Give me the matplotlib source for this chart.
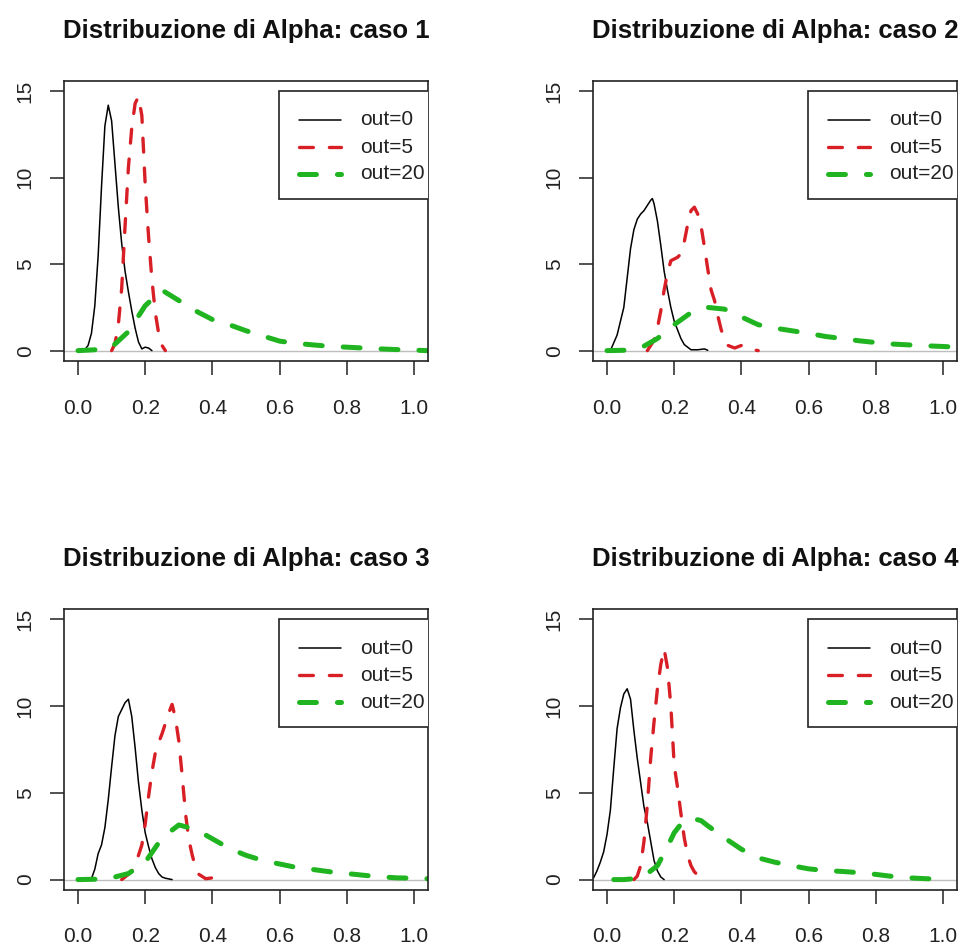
import matplotlib
matplotlib.use("Agg")
import matplotlib.pyplot as plt
from matplotlib.patches import Rectangle

plt.rcParams['font.family'] = ['Liberation Sans', 'DejaVu Sans']
plt.rcParams['lines.scale_dashes'] = False

# ---- data: density of Alpha for each case and number of outliers ----
titles = ["Distribuzione di Alpha: caso 1", "Distribuzione di Alpha: caso 2",
          "Distribuzione di Alpha: caso 3", "Distribuzione di Alpha: caso 4"]
series_labels = ["out=0", "out=5", "out=20"]

# caso 1
c1_out0_x = [0.01, 0.02, 0.03, 0.04, 0.05, 0.06, 0.07, 0.08, 0.09, 0.10, 0.11, 0.12, 0.13, 0.14,
             0.15, 0.16, 0.17, 0.18, 0.19, 0.20, 0.21, 0.22]
c1_out0_y = [0.0, 0.05, 0.3, 1.0, 2.6, 5.5, 9.5, 13.0, 14.2, 13.3, 10.8, 8.3, 6.2, 4.6,
             3.4, 2.3, 1.3, 0.5, 0.1, 0.2, 0.15, 0.0]
c1_out5_x = [0.10, 0.11, 0.12, 0.13, 0.14, 0.15, 0.16, 0.17, 0.18, 0.19, 0.20, 0.21, 0.22, 0.23,
             0.24, 0.25, 0.26]
c1_out5_y = [0.0, 0.4, 1.5, 3.6, 7.2, 10.6, 12.9, 14.3, 14.7, 13.6, 9.6, 6.6, 4.1, 2.2,
             1.0, 0.3, 0.0]
c1_out20_x = [0.0, 0.05, 0.10, 0.15, 0.20, 0.25, 0.30, 0.35, 0.40, 0.45, 0.50, 0.55, 0.60, 0.65,
              0.70, 0.75, 0.80, 0.85, 0.90, 0.95, 1.00, 1.04]
c1_out20_y = [0.0, 0.05, 0.2, 1.1, 2.6, 3.5, 2.9, 2.3, 1.8, 1.5, 1.15, 0.85, 0.55, 0.42,
              0.33, 0.25, 0.2, 0.15, 0.1, 0.06, 0.03, 0.0]

# caso 2
c2_out0_x = [0.0, 0.01, 0.03, 0.05, 0.06, 0.07, 0.08, 0.09, 0.10, 0.11, 0.12, 0.13, 0.135, 0.14,
             0.15, 0.16, 0.17, 0.18, 0.19, 0.20, 0.21, 0.22, 0.23, 0.24, 0.25, 0.27, 0.29, 0.30]
c2_out0_y = [0.0, 0.0, 0.9, 2.5, 4.2, 5.9, 7.0, 7.6, 7.9, 8.1, 8.4, 8.7, 8.8, 8.5,
             7.5, 6.1, 4.6, 3.5, 2.5, 1.7, 1.2, 0.7, 0.35, 0.2, 0.05, 0.05, 0.1, 0.02]
c2_out5_x = [0.12, 0.14, 0.15, 0.16, 0.17, 0.18, 0.19, 0.20, 0.21, 0.22, 0.23, 0.24, 0.25, 0.26,
             0.27, 0.28, 0.29, 0.30, 0.31, 0.32, 0.33, 0.34, 0.35, 0.36, 0.38, 0.40, 0.42, 0.45]
c2_out5_y = [0.0, 0.6, 1.3, 2.3, 3.5, 4.5, 5.2, 5.3, 5.4, 5.6, 6.3, 7.3, 8.1, 8.3,
             7.9, 7.2, 6.0, 4.7, 3.5, 2.9, 2.0, 1.2, 0.7, 0.3, 0.15, 0.3, 0.1, 0.0]
c2_out20_x = [0.0, 0.05, 0.10, 0.15, 0.20, 0.25, 0.30, 0.35, 0.40, 0.45, 0.50, 0.55, 0.60, 0.65,
              0.70, 0.75, 0.80, 0.85, 0.90, 0.95, 1.00, 1.04]
c2_out20_y = [0.0, 0.02, 0.15, 0.7, 1.5, 2.2, 2.5, 2.4, 1.95, 1.5, 1.3, 1.15, 1.0, 0.82,
              0.7, 0.57, 0.47, 0.38, 0.33, 0.28, 0.24, 0.2]

# caso 3
c3_out0_x = [0.03, 0.04, 0.05, 0.06, 0.07, 0.08, 0.09, 0.10, 0.11, 0.12, 0.13, 0.14, 0.15, 0.16,
             0.17, 0.18, 0.19, 0.20, 0.21, 0.22, 0.23, 0.24, 0.25, 0.26, 0.28]
c3_out0_y = [0.0, 0.05, 0.6, 1.5, 2.0, 3.0, 4.6, 6.5, 8.3, 9.4, 9.8, 10.2, 10.4, 9.4,
             7.6, 5.6, 4.0, 2.7, 1.9, 1.2, 0.7, 0.35, 0.15, 0.08, 0.0]
c3_out5_x = [0.13, 0.15, 0.16, 0.17, 0.18, 0.19, 0.20, 0.21, 0.22, 0.23, 0.24, 0.25, 0.26, 0.27,
             0.28, 0.29, 0.30, 0.31, 0.32, 0.33, 0.34, 0.35, 0.36, 0.38, 0.40, 0.42, 0.44]
c3_out5_y = [0.0, 0.3, 0.5, 0.9, 1.4, 2.0, 3.2, 4.8, 6.2, 7.3, 7.9, 8.4, 9.0, 9.6,
             10.1, 9.3, 8.0, 6.0, 3.8, 2.3, 1.4, 0.7, 0.3, 0.05, 0.1, 0.15, 0.0]
c3_out20_x = [0.0, 0.05, 0.10, 0.15, 0.20, 0.25, 0.30, 0.35, 0.40, 0.45, 0.50, 0.55, 0.60, 0.65,
              0.70, 0.75, 0.80, 0.85, 0.90, 0.95, 1.00, 1.04]
c3_out20_y = [0.0, 0.02, 0.1, 0.35, 1.0, 2.4, 3.15, 2.9, 2.35, 1.8, 1.4, 1.1, 0.9, 0.7,
              0.58, 0.45, 0.35, 0.25, 0.16, 0.1, 0.08, 0.05]

# caso 4
c4_out0_x = [-0.04, -0.03, -0.02, -0.01, 0.00, 0.01, 0.02, 0.03, 0.04, 0.05, 0.06, 0.07, 0.08,
             0.09, 0.10, 0.11, 0.12, 0.13, 0.14, 0.15, 0.16, 0.17]
c4_out0_y = [0.1, 0.5, 1.0, 1.6, 2.6, 4.0, 6.4, 8.7, 9.9, 10.7, 11.0, 10.4, 8.6,
             7.0, 5.6, 4.2, 3.3, 2.2, 1.1, 0.5, 0.15, 0.0]
c4_out5_x = [0.08, 0.09, 0.10, 0.11, 0.12, 0.13, 0.14, 0.15, 0.16, 0.17, 0.18, 0.19, 0.20, 0.21,
             0.22, 0.23, 0.24, 0.25, 0.26, 0.27, 0.28, 0.30]
c4_out5_y = [0.0, 0.2, 0.8, 2.2, 4.3, 7.0, 9.1, 11.0, 12.4, 13.3, 12.2, 10.0, 6.6, 5.3,
             3.8, 2.4, 1.4, 0.8, 0.45, 0.25, 0.15, 0.1]
c4_out20_x = [0.02, 0.05, 0.08, 0.10, 0.12, 0.15, 0.18, 0.20, 0.22, 0.25, 0.28, 0.30, 0.35,
              0.40, 0.45, 0.50, 0.55, 0.60, 0.65, 0.70, 0.75, 0.80, 0.85, 0.90, 0.95, 1.00]
c4_out20_y = [0.0, 0.0, 0.05, 0.2, 0.35, 0.8, 1.9, 2.7, 3.2, 3.55, 3.4, 3.1, 2.4,
              1.75, 1.25, 1.0, 0.8, 0.62, 0.52, 0.47, 0.4, 0.3, 0.18, 0.1, 0.05, 0.03]

x_ticks = [0.0, 0.2, 0.4, 0.6, 0.8, 1.0]
x_tick_labels = ["0.0", "0.2", "0.4", "0.6", "0.8", "1.0"]
y_ticks = [0, 5, 10, 15]
y_tick_labels = ["0", "5", "10", "15"]

panels = [
    [(c1_out0_x, c1_out0_y), (c1_out5_x, c1_out5_y), (c1_out20_x, c1_out20_y)],
    [(c2_out0_x, c2_out0_y), (c2_out5_x, c2_out5_y), (c2_out20_x, c2_out20_y)],
    [(c3_out0_x, c3_out0_y), (c3_out5_x, c3_out5_y), (c3_out20_x, c3_out20_y)],
    [(c4_out0_x, c4_out0_y), (c4_out5_x, c4_out5_y), (c4_out20_x, c4_out20_y)],
]

# ---- styles ----
RED = "#d81f26"
GREEN = "#20b420"
styles = [
    dict(color="black", lw=1.1, solid_capstyle="round"),
    dict(color=RED, lw=2.4, dashes=(10, 11.5), dash_capstyle="round"),
    dict(color=GREEN, lw=3.6, dashes=(12.2, 15.1), dash_capstyle="round"),
]

W, H = 972, 948
fig = plt.figure(figsize=(W / 100, H / 100), dpi=100)

# axes boxes in pixels: (left, top, right, bottom)
boxes = [(64, 81, 428, 361), (593, 81, 957, 361),
         (64, 609, 428, 890), (593, 609, 957, 890)]

for box, title, curves in zip(boxes, titles, panels):
    l, t, r, b = box
    ax = fig.add_axes([l / W, 1 - b / H, (r - l) / W, (b - t) / H])
    ax.set_xlim(-0.0417, 1.0417)
    ax.set_ylim(-0.6, 15.6)
    ax.axhline(0, color="#bebebe", lw=1.0, zorder=1.5)

    for (xs, ys), st in zip(curves, styles):
        ax.plot(xs, ys, zorder=2, **st)

    ax.set_xticks(x_ticks)
    ax.set_xticklabels(x_tick_labels)
    ax.set_yticks(y_ticks)
    ax.set_yticklabels(y_tick_labels, rotation=90, va="center")
    ax.tick_params(direction="out", length=10, width=1.1, labelsize=15, colors="#222222")
    ax.tick_params(axis="x", pad=17)
    ax.tick_params(axis="y", pad=11)
    for sp in ax.spines.values():
        sp.set_linewidth(1.2)
        sp.set_color("#222222")

    ax.set_title(title, fontweight="bold", fontsize=18.5, pad=30.7, color="#111111")

    # legend box (clipped at the plot region)
    ax.add_patch(Rectangle((0.591, 0.579), 0.6, 0.964 - 0.579, transform=ax.transAxes,
                           facecolor="white", edgecolor="#222222", lw=1.2,
                           clip_on=True, zorder=3))
    row_y = [0.861, 0.764, 0.668]
    for yy, lab, st in zip(row_y, series_labels, styles):
        ax.plot([0.646, 0.761], [yy, yy], transform=ax.transAxes, zorder=4, **st)
        ax.text(0.813, yy, lab, transform=ax.transAxes, fontsize=15,
                va="center", ha="left", color="#222222", zorder=4)

fig.savefig("out.png", dpi=100)
